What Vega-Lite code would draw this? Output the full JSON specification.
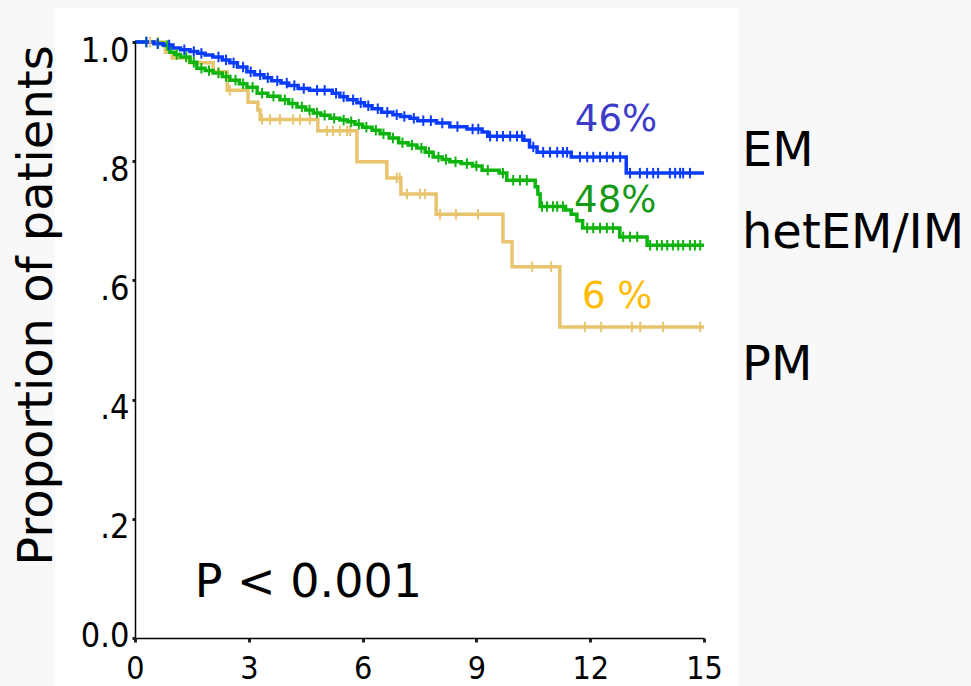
{
  "$schema": "https://vega.github.io/schema/vega-lite/v6.json",
  "width": 569,
  "height": 596,
  "autosize": {"type": "none"},
  "padding": {"left": 135, "top": 42, "right": 267, "bottom": 48},
  "background": "#f8f8f8",
  "config": {"view": {"stroke": null}},
  "datasets": {
    "curves": [
      {"group": "PM", "t": 0, "s": 1.0},
      {"group": "PM", "t": 0.8, "s": 0.983},
      {"group": "PM", "t": 0.98, "s": 0.973},
      {"group": "PM", "t": 1.45, "s": 0.965},
      {"group": "PM", "t": 2.06, "s": 0.95},
      {"group": "PM", "t": 2.43, "s": 0.919},
      {"group": "PM", "t": 2.98, "s": 0.899},
      {"group": "PM", "t": 3.24, "s": 0.886},
      {"group": "PM", "t": 3.3, "s": 0.87},
      {"group": "PM", "t": 4.82, "s": 0.851},
      {"group": "PM", "t": 5.85, "s": 0.799},
      {"group": "PM", "t": 6.64, "s": 0.772},
      {"group": "PM", "t": 7.01, "s": 0.745},
      {"group": "PM", "t": 7.94, "s": 0.711},
      {"group": "PM", "t": 9.7, "s": 0.665},
      {"group": "PM", "t": 9.94, "s": 0.623},
      {"group": "PM", "t": 11.2, "s": 0.522},
      {"group": "PM", "t": 15.0, "s": 0.522},
      {"group": "hetEM/IM", "t": 0, "s": 1.0},
      {"group": "hetEM/IM", "t": 0.5, "s": 0.998},
      {"group": "hetEM/IM", "t": 0.75, "s": 0.994},
      {"group": "hetEM/IM", "t": 0.92, "s": 0.983},
      {"group": "hetEM/IM", "t": 1.05, "s": 0.979},
      {"group": "hetEM/IM", "t": 1.2, "s": 0.975},
      {"group": "hetEM/IM", "t": 1.45, "s": 0.966},
      {"group": "hetEM/IM", "t": 1.63, "s": 0.956},
      {"group": "hetEM/IM", "t": 1.85, "s": 0.952},
      {"group": "hetEM/IM", "t": 2.06, "s": 0.948},
      {"group": "hetEM/IM", "t": 2.3, "s": 0.942},
      {"group": "hetEM/IM", "t": 2.5, "s": 0.936},
      {"group": "hetEM/IM", "t": 2.75, "s": 0.93},
      {"group": "hetEM/IM", "t": 2.95, "s": 0.924},
      {"group": "hetEM/IM", "t": 3.22, "s": 0.914},
      {"group": "hetEM/IM", "t": 3.5, "s": 0.909},
      {"group": "hetEM/IM", "t": 3.82, "s": 0.903},
      {"group": "hetEM/IM", "t": 4.05, "s": 0.897},
      {"group": "hetEM/IM", "t": 4.27, "s": 0.891},
      {"group": "hetEM/IM", "t": 4.5, "s": 0.886},
      {"group": "hetEM/IM", "t": 4.7, "s": 0.881},
      {"group": "hetEM/IM", "t": 4.9, "s": 0.877},
      {"group": "hetEM/IM", "t": 5.14, "s": 0.872},
      {"group": "hetEM/IM", "t": 5.4, "s": 0.869},
      {"group": "hetEM/IM", "t": 5.6, "s": 0.866},
      {"group": "hetEM/IM", "t": 5.8, "s": 0.862},
      {"group": "hetEM/IM", "t": 6.0, "s": 0.857},
      {"group": "hetEM/IM", "t": 6.25, "s": 0.852},
      {"group": "hetEM/IM", "t": 6.46, "s": 0.846},
      {"group": "hetEM/IM", "t": 6.7, "s": 0.839},
      {"group": "hetEM/IM", "t": 6.95, "s": 0.831},
      {"group": "hetEM/IM", "t": 7.2, "s": 0.827},
      {"group": "hetEM/IM", "t": 7.43, "s": 0.822},
      {"group": "hetEM/IM", "t": 7.65, "s": 0.815},
      {"group": "hetEM/IM", "t": 7.86, "s": 0.807},
      {"group": "hetEM/IM", "t": 8.1, "s": 0.803},
      {"group": "hetEM/IM", "t": 8.3, "s": 0.799},
      {"group": "hetEM/IM", "t": 8.6, "s": 0.796},
      {"group": "hetEM/IM", "t": 8.9, "s": 0.792},
      {"group": "hetEM/IM", "t": 9.15, "s": 0.785},
      {"group": "hetEM/IM", "t": 9.6, "s": 0.78},
      {"group": "hetEM/IM", "t": 9.8, "s": 0.768},
      {"group": "hetEM/IM", "t": 10.55, "s": 0.757},
      {"group": "hetEM/IM", "t": 10.62, "s": 0.745},
      {"group": "hetEM/IM", "t": 10.68, "s": 0.724},
      {"group": "hetEM/IM", "t": 11.35, "s": 0.718},
      {"group": "hetEM/IM", "t": 11.5, "s": 0.711},
      {"group": "hetEM/IM", "t": 11.65, "s": 0.7},
      {"group": "hetEM/IM", "t": 11.8, "s": 0.688},
      {"group": "hetEM/IM", "t": 12.78, "s": 0.673},
      {"group": "hetEM/IM", "t": 13.5, "s": 0.659},
      {"group": "hetEM/IM", "t": 15.0, "s": 0.659},
      {"group": "EM", "t": 0, "s": 1.0},
      {"group": "EM", "t": 0.5, "s": 0.997},
      {"group": "EM", "t": 0.75, "s": 0.995},
      {"group": "EM", "t": 1.0, "s": 0.99},
      {"group": "EM", "t": 1.2, "s": 0.987},
      {"group": "EM", "t": 1.45, "s": 0.984},
      {"group": "EM", "t": 1.65, "s": 0.981},
      {"group": "EM", "t": 1.85, "s": 0.978},
      {"group": "EM", "t": 2.05, "s": 0.975},
      {"group": "EM", "t": 2.3, "s": 0.97},
      {"group": "EM", "t": 2.5, "s": 0.965},
      {"group": "EM", "t": 2.7, "s": 0.958},
      {"group": "EM", "t": 2.95, "s": 0.95},
      {"group": "EM", "t": 3.15, "s": 0.945},
      {"group": "EM", "t": 3.4, "s": 0.94},
      {"group": "EM", "t": 3.6, "s": 0.935},
      {"group": "EM", "t": 3.85, "s": 0.931},
      {"group": "EM", "t": 4.05, "s": 0.927},
      {"group": "EM", "t": 4.3, "s": 0.922},
      {"group": "EM", "t": 4.6, "s": 0.919},
      {"group": "EM", "t": 5.2, "s": 0.914},
      {"group": "EM", "t": 5.4, "s": 0.908},
      {"group": "EM", "t": 5.6, "s": 0.903},
      {"group": "EM", "t": 5.85, "s": 0.898},
      {"group": "EM", "t": 6.05, "s": 0.893},
      {"group": "EM", "t": 6.25, "s": 0.888},
      {"group": "EM", "t": 6.5, "s": 0.882},
      {"group": "EM", "t": 6.8, "s": 0.878},
      {"group": "EM", "t": 7.0, "s": 0.875},
      {"group": "EM", "t": 7.25, "s": 0.872},
      {"group": "EM", "t": 7.45, "s": 0.868},
      {"group": "EM", "t": 7.95, "s": 0.864},
      {"group": "EM", "t": 8.3, "s": 0.858},
      {"group": "EM", "t": 8.75, "s": 0.854},
      {"group": "EM", "t": 9.15, "s": 0.849},
      {"group": "EM", "t": 9.3, "s": 0.842},
      {"group": "EM", "t": 10.25, "s": 0.835},
      {"group": "EM", "t": 10.4, "s": 0.824},
      {"group": "EM", "t": 10.6, "s": 0.815},
      {"group": "EM", "t": 11.5, "s": 0.807},
      {"group": "EM", "t": 12.95, "s": 0.78},
      {"group": "EM", "t": 15.0, "s": 0.78}
    ],
    "censor": [
      {"group": "PM", "t": 0.4, "s": 1.0},
      {"group": "PM", "t": 0.6, "s": 1.0},
      {"group": "PM", "t": 2.2, "s": 0.95},
      {"group": "PM", "t": 2.5, "s": 0.919},
      {"group": "PM", "t": 3.35, "s": 0.87},
      {"group": "PM", "t": 3.56, "s": 0.87},
      {"group": "PM", "t": 3.82, "s": 0.87},
      {"group": "PM", "t": 4.17, "s": 0.87},
      {"group": "PM", "t": 4.35, "s": 0.87},
      {"group": "PM", "t": 4.61, "s": 0.87},
      {"group": "PM", "t": 5.06, "s": 0.851},
      {"group": "PM", "t": 5.22, "s": 0.851},
      {"group": "PM", "t": 5.4, "s": 0.851},
      {"group": "PM", "t": 5.59, "s": 0.851},
      {"group": "PM", "t": 5.67, "s": 0.851},
      {"group": "PM", "t": 6.9, "s": 0.772},
      {"group": "PM", "t": 6.98, "s": 0.772},
      {"group": "PM", "t": 7.17, "s": 0.745},
      {"group": "PM", "t": 7.51, "s": 0.745},
      {"group": "PM", "t": 7.65, "s": 0.745},
      {"group": "PM", "t": 8.04, "s": 0.711},
      {"group": "PM", "t": 8.46, "s": 0.711},
      {"group": "PM", "t": 9.04, "s": 0.711},
      {"group": "PM", "t": 10.47, "s": 0.623},
      {"group": "PM", "t": 10.97, "s": 0.623},
      {"group": "PM", "t": 11.86, "s": 0.522},
      {"group": "PM", "t": 12.29, "s": 0.522},
      {"group": "PM", "t": 13.1, "s": 0.522},
      {"group": "PM", "t": 13.32, "s": 0.522},
      {"group": "PM", "t": 13.92, "s": 0.522},
      {"group": "PM", "t": 14.9, "s": 0.522},
      {"group": "hetEM/IM", "t": 0.3, "s": 1.0},
      {"group": "hetEM/IM", "t": 0.6, "s": 0.998},
      {"group": "hetEM/IM", "t": 0.85, "s": 0.994},
      {"group": "hetEM/IM", "t": 1.1, "s": 0.979},
      {"group": "hetEM/IM", "t": 1.35, "s": 0.975},
      {"group": "hetEM/IM", "t": 1.55, "s": 0.966},
      {"group": "hetEM/IM", "t": 1.75, "s": 0.956},
      {"group": "hetEM/IM", "t": 1.95, "s": 0.952},
      {"group": "hetEM/IM", "t": 2.2, "s": 0.948},
      {"group": "hetEM/IM", "t": 2.4, "s": 0.942},
      {"group": "hetEM/IM", "t": 2.65, "s": 0.936},
      {"group": "hetEM/IM", "t": 2.85, "s": 0.93},
      {"group": "hetEM/IM", "t": 3.1, "s": 0.924},
      {"group": "hetEM/IM", "t": 3.35, "s": 0.914},
      {"group": "hetEM/IM", "t": 3.65, "s": 0.909},
      {"group": "hetEM/IM", "t": 3.95, "s": 0.903},
      {"group": "hetEM/IM", "t": 4.15, "s": 0.897},
      {"group": "hetEM/IM", "t": 4.4, "s": 0.891},
      {"group": "hetEM/IM", "t": 4.6, "s": 0.886},
      {"group": "hetEM/IM", "t": 4.8, "s": 0.881},
      {"group": "hetEM/IM", "t": 5.0, "s": 0.877},
      {"group": "hetEM/IM", "t": 5.25, "s": 0.872},
      {"group": "hetEM/IM", "t": 5.5, "s": 0.869},
      {"group": "hetEM/IM", "t": 5.7, "s": 0.866},
      {"group": "hetEM/IM", "t": 5.9, "s": 0.862},
      {"group": "hetEM/IM", "t": 6.1, "s": 0.857},
      {"group": "hetEM/IM", "t": 6.35, "s": 0.852},
      {"group": "hetEM/IM", "t": 6.55, "s": 0.846},
      {"group": "hetEM/IM", "t": 6.8, "s": 0.839},
      {"group": "hetEM/IM", "t": 7.05, "s": 0.831},
      {"group": "hetEM/IM", "t": 7.3, "s": 0.827},
      {"group": "hetEM/IM", "t": 7.55, "s": 0.822},
      {"group": "hetEM/IM", "t": 7.75, "s": 0.815},
      {"group": "hetEM/IM", "t": 8.0, "s": 0.807},
      {"group": "hetEM/IM", "t": 8.2, "s": 0.803},
      {"group": "hetEM/IM", "t": 8.45, "s": 0.799},
      {"group": "hetEM/IM", "t": 8.75, "s": 0.796},
      {"group": "hetEM/IM", "t": 9.0, "s": 0.792},
      {"group": "hetEM/IM", "t": 9.3, "s": 0.785},
      {"group": "hetEM/IM", "t": 9.7, "s": 0.78},
      {"group": "hetEM/IM", "t": 9.97, "s": 0.768},
      {"group": "hetEM/IM", "t": 10.15, "s": 0.768},
      {"group": "hetEM/IM", "t": 10.33, "s": 0.768},
      {"group": "hetEM/IM", "t": 10.73, "s": 0.724},
      {"group": "hetEM/IM", "t": 10.86, "s": 0.724},
      {"group": "hetEM/IM", "t": 11.02, "s": 0.724},
      {"group": "hetEM/IM", "t": 11.13, "s": 0.724},
      {"group": "hetEM/IM", "t": 11.28, "s": 0.724},
      {"group": "hetEM/IM", "t": 11.92, "s": 0.688},
      {"group": "hetEM/IM", "t": 12.08, "s": 0.688},
      {"group": "hetEM/IM", "t": 12.26, "s": 0.688},
      {"group": "hetEM/IM", "t": 12.44, "s": 0.688},
      {"group": "hetEM/IM", "t": 12.6, "s": 0.688},
      {"group": "hetEM/IM", "t": 12.87, "s": 0.673},
      {"group": "hetEM/IM", "t": 13.05, "s": 0.673},
      {"group": "hetEM/IM", "t": 13.24, "s": 0.673},
      {"group": "hetEM/IM", "t": 13.58, "s": 0.659},
      {"group": "hetEM/IM", "t": 13.76, "s": 0.659},
      {"group": "hetEM/IM", "t": 13.89, "s": 0.659},
      {"group": "hetEM/IM", "t": 14.03, "s": 0.659},
      {"group": "hetEM/IM", "t": 14.18, "s": 0.659},
      {"group": "hetEM/IM", "t": 14.32, "s": 0.659},
      {"group": "hetEM/IM", "t": 14.45, "s": 0.659},
      {"group": "hetEM/IM", "t": 14.63, "s": 0.659},
      {"group": "hetEM/IM", "t": 14.76, "s": 0.659},
      {"group": "hetEM/IM", "t": 14.9, "s": 0.659},
      {"group": "EM", "t": 0.3, "s": 1.0},
      {"group": "EM", "t": 0.6, "s": 0.997},
      {"group": "EM", "t": 0.9, "s": 0.995},
      {"group": "EM", "t": 1.3, "s": 0.987},
      {"group": "EM", "t": 1.55, "s": 0.984},
      {"group": "EM", "t": 1.75, "s": 0.981},
      {"group": "EM", "t": 2.2, "s": 0.975},
      {"group": "EM", "t": 2.4, "s": 0.97},
      {"group": "EM", "t": 2.6, "s": 0.965},
      {"group": "EM", "t": 2.85, "s": 0.958},
      {"group": "EM", "t": 3.05, "s": 0.95},
      {"group": "EM", "t": 3.3, "s": 0.945},
      {"group": "EM", "t": 3.5, "s": 0.94},
      {"group": "EM", "t": 3.75, "s": 0.935},
      {"group": "EM", "t": 4.0, "s": 0.931},
      {"group": "EM", "t": 4.2, "s": 0.927},
      {"group": "EM", "t": 4.45, "s": 0.922},
      {"group": "EM", "t": 4.8, "s": 0.919},
      {"group": "EM", "t": 5.0, "s": 0.919},
      {"group": "EM", "t": 5.3, "s": 0.914},
      {"group": "EM", "t": 5.5, "s": 0.908},
      {"group": "EM", "t": 5.75, "s": 0.903},
      {"group": "EM", "t": 5.95, "s": 0.898},
      {"group": "EM", "t": 6.15, "s": 0.893},
      {"group": "EM", "t": 6.4, "s": 0.888},
      {"group": "EM", "t": 6.65, "s": 0.882},
      {"group": "EM", "t": 6.9, "s": 0.878},
      {"group": "EM", "t": 7.1, "s": 0.875},
      {"group": "EM", "t": 7.35, "s": 0.872},
      {"group": "EM", "t": 7.6, "s": 0.868},
      {"group": "EM", "t": 7.8, "s": 0.868},
      {"group": "EM", "t": 8.1, "s": 0.864},
      {"group": "EM", "t": 8.5, "s": 0.858},
      {"group": "EM", "t": 8.9, "s": 0.854},
      {"group": "EM", "t": 9.05, "s": 0.854},
      {"group": "EM", "t": 9.36, "s": 0.842},
      {"group": "EM", "t": 9.54, "s": 0.842},
      {"group": "EM", "t": 9.7, "s": 0.842},
      {"group": "EM", "t": 9.89, "s": 0.842},
      {"group": "EM", "t": 10.07, "s": 0.842},
      {"group": "EM", "t": 10.2, "s": 0.842},
      {"group": "EM", "t": 10.5, "s": 0.824},
      {"group": "EM", "t": 10.76, "s": 0.815},
      {"group": "EM", "t": 10.94, "s": 0.815},
      {"group": "EM", "t": 11.13, "s": 0.815},
      {"group": "EM", "t": 11.28, "s": 0.815},
      {"group": "EM", "t": 11.39, "s": 0.815},
      {"group": "EM", "t": 11.73, "s": 0.807},
      {"group": "EM", "t": 11.92, "s": 0.807},
      {"group": "EM", "t": 12.08, "s": 0.807},
      {"group": "EM", "t": 12.26, "s": 0.807},
      {"group": "EM", "t": 12.44, "s": 0.807},
      {"group": "EM", "t": 12.6, "s": 0.807},
      {"group": "EM", "t": 12.79, "s": 0.807},
      {"group": "EM", "t": 13.05, "s": 0.78},
      {"group": "EM", "t": 13.31, "s": 0.78},
      {"group": "EM", "t": 13.5, "s": 0.78},
      {"group": "EM", "t": 13.66, "s": 0.78},
      {"group": "EM", "t": 13.79, "s": 0.78},
      {"group": "EM", "t": 14.1, "s": 0.78},
      {"group": "EM", "t": 14.24, "s": 0.78},
      {"group": "EM", "t": 14.37, "s": 0.78},
      {"group": "EM", "t": 14.45, "s": 0.78},
      {"group": "EM", "t": 14.63, "s": 0.78}
    ],
    "pct": [
      {"label": "46%", "t": 12.68, "s": 0.851},
      {"label": "48%", "t": 12.66, "s": 0.715},
      {"label": "6 %", "t": 12.71, "s": 0.554}
    ],
    "names": [
      {"label": "EM", "t": 16.0, "s": 0.792},
      {"label": "hetEM/IM", "t": 16.0, "s": 0.654},
      {"label": "PM", "t": 16.0, "s": 0.433}
    ],
    "pval": [
      {"label": "P < 0.001", "t": 4.57, "s": 0.069}
    ]
  },
  "resolve": {"scale": {"color": "independent"}},
  "layer": [
    {
      "data": {"values": [{}]},
      "mark": {"type": "rect", "color": "white"},
      "encoding": {
        "x": {"datum": -2.11, "type": "quantitative", "scale": {"domain": [0, 15]}},
        "x2": {"datum": 15.9},
        "y": {"datum": 1.057, "type": "quantitative", "scale": {"domain": [0, 1]}},
        "y2": {"datum": -0.1}
      }
    },
    {
      "data": {"name": "curves"},
      "mark": {"type": "line", "interpolate": "step-after", "strokeWidth": 3.5},
      "encoding": {
        "x": {
          "field": "t", "type": "quantitative",
          "scale": {"domain": [0, 15], "nice": false},
          "axis": {
            "title": null, "values": [0, 3, 6, 9, 12, 15], "grid": false, "zindex": 1,
            "domainColor": "black", "domainWidth": 1.5,
            "tickColor": "#222", "tickSize": 4, "tickWidth": 3,
            "labelFont": "Liberation Sans Narrow, DejaVu Sans Condensed, sans-serif",
            "labelFontSize": 32, "labelColor": "black", "labelPadding": 11,
            "labelFlush": false
          }
        },
        "y": {
          "field": "s", "type": "quantitative",
          "scale": {"domain": [0, 1], "nice": false, "zero": false},
          "axis": {
            "title": "Proportion of patients", "values": [0, 0.2, 0.4, 0.6, 0.8, 1], "grid": false, "zindex": 1,
            "labelExpr": "datum.value == 0 ? '0.0' : (datum.value == 1 ? '1.0' : '.' + format(datum.value * 10, 'd'))",
            "domainColor": "black", "domainWidth": 1.5,
            "tickColor": "#222", "tickSize": 3, "tickWidth": 3,
            "labelFont": "Liberation Sans Narrow, DejaVu Sans Condensed, sans-serif",
            "labelFontSize": 34, "labelColor": "black", "labelPadding": 3,
            "labelOffset": {"condition": {"test": "datum.value == 0", "value": -2}, "value": 9},
            "labelFlush": false,
            "titleFont": "DejaVu Sans", "titleFontSize": 48, "titleFontWeight": "normal",
            "titleColor": "black", "titleAngle": -90, "titleX": -84, "titleY": 263,
            "titleAlign": "center", "titleBaseline": "alphabetic"
          }
        },
        "color": {
          "field": "group", "type": "nominal", "legend": null,
          "scale": {"domain": ["EM", "hetEM/IM", "PM"], "range": ["#0a3cff", "#0db40d", "#e8c46e"]}
        }
      }
    },
    {
      "data": {"name": "censor"},
      "mark": {"type": "point", "shape": "M0,-1L0,1", "size": 110, "filled": false, "strokeWidth": 2, "opacity": 1},
      "encoding": {
        "x": {"field": "t", "type": "quantitative"},
        "y": {"field": "s", "type": "quantitative"},
        "color": {
          "field": "group", "type": "nominal", "legend": null,
          "scale": {"domain": ["EM", "hetEM/IM", "PM"], "range": ["#0a3cff", "#0db40d", "#e8c46e"]}
        }
      }
    },
    {
      "data": {"name": "pct"},
      "mark": {"type": "text", "font": "DejaVu Sans", "fontSize": 37, "align": "center", "baseline": "alphabetic"},
      "encoding": {
        "x": {"field": "t", "type": "quantitative"},
        "y": {"field": "s", "type": "quantitative"},
        "text": {"field": "label"},
        "color": {
          "field": "label", "type": "nominal", "legend": null,
          "scale": {"domain": ["46%", "48%", "6 %"], "range": ["#3c3cc8", "#169a16", "#ffbb00"]}
        }
      }
    },
    {
      "data": {"name": "names"},
      "mark": {"type": "text", "font": "DejaVu Sans", "fontSize": 48, "align": "left", "baseline": "alphabetic", "color": "black"},
      "encoding": {
        "x": {"field": "t", "type": "quantitative"},
        "y": {"field": "s", "type": "quantitative"},
        "text": {"field": "label"}
      }
    },
    {
      "data": {"name": "pval"},
      "mark": {"type": "text", "font": "DejaVu Sans", "fontSize": 46, "align": "center", "baseline": "alphabetic", "color": "black"},
      "encoding": {
        "x": {"field": "t", "type": "quantitative"},
        "y": {"field": "s", "type": "quantitative"},
        "text": {"field": "label"}
      }
    }
  ]
}
